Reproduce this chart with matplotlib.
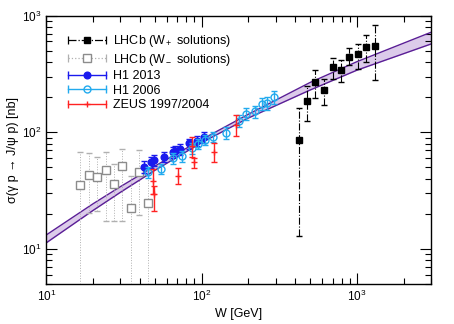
import matplotlib
matplotlib.use('Agg')
import matplotlib.pyplot as plt
from matplotlib.lines import Line2D
from matplotlib.legend_handler import HandlerBase

plt.rcParams['font.family'] = ['Liberation Sans', 'DejaVu Sans']
plt.rcParams['mathtext.fontset'] = 'custom'
plt.rcParams['mathtext.rm'] = 'Liberation Sans'
plt.rcParams['mathtext.it'] = 'Liberation Sans:italic'

# fit band (lower / upper edge read at a few W values)
W_band = [10, 20, 30, 50, 100, 200, 500, 1000, 3000]
band_lo = [11.3, 21.4, 30.6, 47.2, 81.5, 132.4, 230, 340, 570]
band_hi = [13.2, 24.4, 34.2, 51.3, 86.5, 142.6, 267, 402, 718]

# LHCb W+ solutions
W_plus = [422, 477, 542, 614, 698, 788, 893, 1014, 1148, 1306]
sig_plus = [86, 187, 269, 231, 360, 344, 439, 466, 538, 549]
hi_plus = [161, 247, 339, 288, 432, 413, 527, 575, 688, 826]
lo_plus = [13, 126, 198, 172, 284, 269, 380, 351, 400, 282]

# LHCb W- solutions (lower edge 1 = runs off the bottom of the plot)
W_minus = [16.6, 18.8, 21.3, 24.1, 27.2, 30.8, 35.1, 39.6, 44.9]
sig_minus = [35.3, 43.0, 41.4, 47.1, 35.7, 51.1, 22.5, 45.3, 25.0]
hi_minus = [68, 66, 62, 67.3, 53.5, 72, 42.5, 70.6, 47.5]
lo_minus = [1, 20.5, 21.2, 17.4, 17.4, 17.4, 1, 19.6, 1]

# H1 2013
W_h13 = [42.7, 47.5, 49.3, 56.9, 65.3, 67.7, 73.1, 83.1, 93.6, 103.3]
sig_h13 = [50.7, 55.2, 58.0, 61.8, 67.3, 69.2, 72.0, 80.4, 84.9, 90.6]
err_h13 = [5.5, 6, 6.5, 6.5, 7, 7, 7.5, 8, 8.5, 9]

# H1 2006
W_h06 = [45.3, 54.9, 65.0, 74.3, 86.5, 95.0, 106, 118.6, 144.5, 174.8,
         194.5, 219.8, 243.8, 264.5, 291]
sig_h06 = [45.3, 48.8, 60.0, 62.4, 73.1, 79.5, 86.5, 91.8, 99.4, 126,
           144, 151.6, 175.4, 178.2, 198.6]
err_h06 = [5, 5, 6, 6.5, 7.5, 8, 9, 9.5, 11, 14, 16, 18, 21, 22, 25]

# ZEUS 1997/2004
W_zeus = [48.5, 49.5, 70.3, 87.1, 89.1, 120.3, 166]
sig_zeus = [38.4, 29.7, 42.4, 76.9, 55.2, 67.3, 116.5]
hi_zeus = [48.8, 34.8, 49.7, 90.6, 60.6, 80.8, 141.9]
lo_zeus = [29.7, 21.2, 36.1, 61.0, 49.7, 55.2, 93.7]

labels = ['LHCb (W$_+$ solutions)', 'LHCb (W$_-$ solutions)', 'H1 2013',
          'H1 2006', 'ZEUS 1997/2004']

c_blue = '#1a1aee'
c_cyan = '#22aaee'
c_red = '#ff2222'
c_gray = '#8c8c8c'
c_lgray = '#b0b0b0'
c_band = '#5a1e96'


class HandlerGnu(HandlerBase):
    '''gnuplot-like legend sample: horizontal bar with end caps and a marker'''
    def create_artists(self, legend, orig, xdescent, ydescent, width, height,
                       fontsize, trans):
        y = height / 2 - ydescent
        x0, x1 = -xdescent, width - xdescent
        bar = Line2D([x0, x1], [y, y], color=orig.get_color(),
                     ls=orig.get_linestyle(), lw=orig.get_linewidth())
        caps = Line2D([x0, x1], [y, y], color=orig.get_color(), ls='none',
                      marker='|', ms=6, mew=orig.get_linewidth())
        mark = Line2D([(x0 + x1) / 2], [y], ls='none', marker=orig.get_marker(),
                      ms=orig.get_markersize(), mfc=orig.get_markerfacecolor(),
                      mec=orig.get_markeredgecolor(), mew=1.0)
        for a in (bar, caps, mark):
            a.set_transform(trans)
        return [bar, caps, mark]


def err(sig, lo, hi):
    return [[s - l for s, l in zip(sig, lo)], [h - s for s, h in zip(sig, hi)]]


fig, ax = plt.subplots(figsize=(4.54, 3.24), dpi=100)
plt.subplots_adjust(left=0.102, right=0.949, top=0.952, bottom=0.123)

ax.fill_between(W_band, band_lo, band_hi, color='#dccbea', lw=0, zorder=1)
ax.plot(W_band, band_lo, color=c_band, lw=1.0, zorder=2)
ax.plot(W_band, band_hi, color=c_band, lw=1.0, zorder=2)

eb = ax.errorbar(W_minus, sig_minus, yerr=err(sig_minus, lo_minus, hi_minus),
                 fmt='s', ms=5.5, mfc='white', mec=c_gray, mew=1.0,
                 ecolor=c_lgray, elinewidth=0.7, capsize=2, zorder=3)
eb[2][0].set_linestyle(':')

eb = ax.errorbar(W_plus, sig_plus, yerr=err(sig_plus, lo_plus, hi_plus),
                 fmt='s', ms=5, color='black', elinewidth=0.8, capsize=2.2,
                 zorder=4)
eb[2][0].set_linestyle('-.')

ax.errorbar(W_h13, sig_h13, yerr=err_h13, fmt='o', ms=4.8, color=c_blue,
            elinewidth=1.0, capsize=2.5, zorder=5)
ax.errorbar(W_h06, sig_h06, yerr=err_h06, fmt='o', ms=5, mfc='none',
            mec=c_cyan, mew=1.0, ecolor=c_cyan, elinewidth=1.0, capsize=2.5,
            zorder=6)
ax.errorbar(W_zeus, sig_zeus, yerr=err(sig_zeus, lo_zeus, hi_zeus), fmt='+',
            ms=5, color=c_red, elinewidth=1.0, capsize=2.5, zorder=7)

ax.set_xscale('log')
ax.set_yscale('log')
ax.set_xlim(10, 3000)
ax.set_ylim(5, 1000)
ax.tick_params(which='both', direction='in', top=True, right=True,
               labelsize=8.5, width=0.8)
ax.tick_params(which='major', length=8)
ax.tick_params(which='minor', length=4.5)
for s in ax.spines.values():
    s.set_linewidth(1.0)

ax.set_xlabel('W [GeV]', fontsize=9, labelpad=3)
ax.set_ylabel('σ(γ p → J/ψ p) [nb]', fontsize=9, labelpad=2)

proxies = [
    Line2D([], [], color='black', ls='-.', lw=0.9, marker='s', ms=5,
           mfc='black', mec='black'),
    Line2D([], [], color=c_lgray, ls=':', lw=0.9, marker='s', ms=5.5,
           mfc='white', mec=c_gray),
    Line2D([], [], color=c_blue, ls='-', lw=1.0, marker='o', ms=4.8,
           mfc=c_blue, mec=c_blue),
    Line2D([], [], color=c_cyan, ls='-', lw=1.0, marker='o', ms=5,
           mfc='none', mec=c_cyan),
    Line2D([], [], color=c_red, ls='-', lw=1.0, marker='+', ms=5,
           mfc=c_red, mec=c_red),
]
ax.legend(proxies, labels, handler_map={Line2D: HandlerGnu()}, loc='upper left',
          bbox_to_anchor=(0.057, 0.935), frameon=False, fontsize=9,
          borderpad=0, borderaxespad=0, handlelength=3.0, handletextpad=0.6,
          labelspacing=0.2)

plt.savefig('out.png', dpi=100)
plt.close()
